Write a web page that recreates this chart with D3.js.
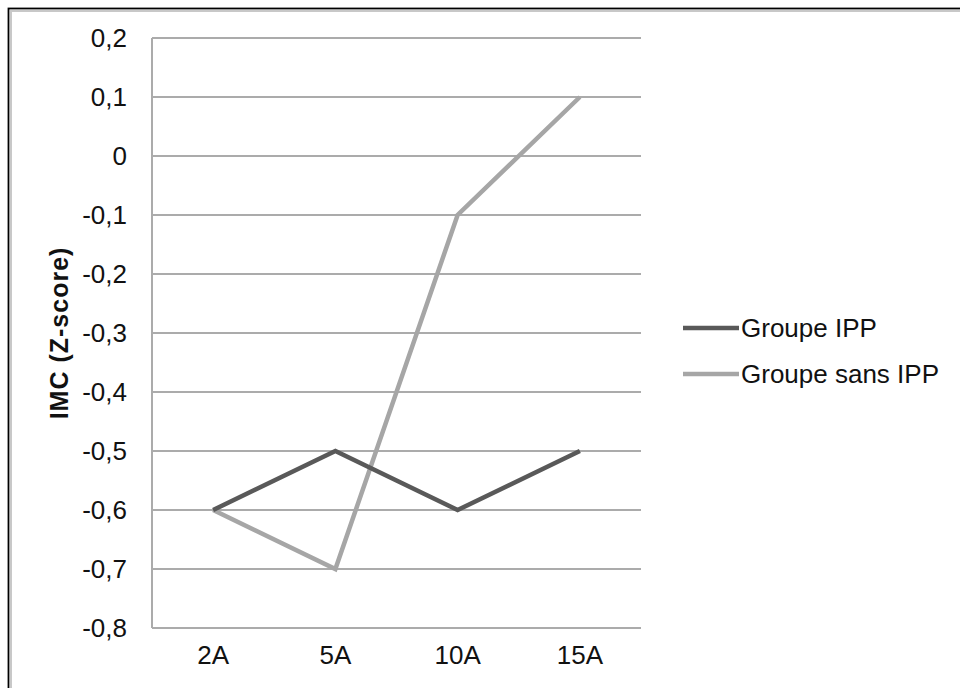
<!DOCTYPE html>
<html><head><meta charset="utf-8">
<script src="https://cdn.jsdelivr.net/npm/d3@7"></script>
<style>body{margin:0;background:#fff}svg{display:block;font-family:Arial,"Liberation Sans",sans-serif}</style>
</head><body>
<svg id="c" width="960" height="688"></svg>
<script>
const categories = ["2A", "5A", "10A", "15A"];
const groupeIPP = [-0.6, -0.5, -0.6, -0.5];
const groupeSansIPP = [-0.6, -0.7, -0.1, 0.1];
const yTicks = [0.2, 0.1, 0, -0.1, -0.2, -0.3, -0.4, -0.5, -0.6, -0.7, -0.8];
const seriesNames = ["Groupe IPP", "Groupe sans IPP"];
const seriesColors = ["#595959", "#a6a6a6"];
const yTitle = "IMC (Z-score)";

const svg = d3.select("#c");
// frame
svg.append("rect").attr("x",8.5).attr("y",8.5).attr("width",980).attr("height",700)
  .attr("fill","none").attr("stroke","#000").attr("stroke-width",1.8);
svg.append("rect").attr("x",11).attr("y",11).attr("width",980).attr("height",700)
  .attr("fill","none").attr("stroke","#c8c8c8").attr("stroke-width",2);

const L=152, R=641, T=38, B=628;
const x = d3.scaleBand().domain(categories).range([L,R]);
const y = d3.scaleLinear().domain([-0.8,0.2]).range([B,T]);
const fmt = v => (Math.abs(v)<1e-9 ? "0" : d3.format(".1f")(v).replace(".",",").replace("−","-"));

// gridlines
svg.append("g").selectAll("line").data(yTicks).join("line")
  .attr("x1",L).attr("x2",R).attr("y1",d=>y(d)).attr("y2",d=>y(d))
  .attr("stroke","#ababab").attr("stroke-width",2);
// y axis line
svg.append("line").attr("x1",L).attr("x2",L).attr("y1",T).attr("y2",B)
  .attr("stroke","#ababab").attr("stroke-width",2);

// y axis labels
const yAxis = d3.axisLeft(y).tickValues(yTicks).tickFormat(fmt).tickSize(0).tickPadding(0);
const gy = svg.append("g").attr("transform",`translate(127,0)`).call(yAxis);
gy.select(".domain").remove();
gy.selectAll("text").attr("font-size",26).attr("fill","#111").attr("font-family","Arial, 'Liberation Sans', sans-serif");

// x axis labels
const xAxis = d3.axisBottom(x).tickSize(0).tickPadding(0);
const gx = svg.append("g").attr("transform",`translate(0,${B+18})`).call(xAxis);
gx.select(".domain").remove();
gx.selectAll("text").attr("font-size",26).attr("fill","#111").attr("font-family","Arial, 'Liberation Sans', sans-serif");

// y title
svg.append("text").attr("transform",`translate(68,${(T+B)/2}) rotate(-90)`)
  .attr("text-anchor","middle").attr("font-size",25).attr("font-weight","bold")
  .attr("letter-spacing",1).attr("fill","#111").text(yTitle);

// lines
const line = d3.line().x((d,i)=>x(categories[i])+x.bandwidth()/2).y(d=>y(d));
[groupeSansIPP, groupeIPP].forEach((s,k)=>{
  const idx = k===0 ? 1 : 0;
  svg.append("path").datum(s).attr("d",line).attr("fill","none")
    .attr("stroke",seriesColors[idx]).attr("stroke-width",4.5).attr("stroke-linejoin","miter");
});

// legend
const leg = svg.append("g");
seriesNames.forEach((n,i)=>{
  const ly = 328 + i*46;
  leg.append("line").attr("x1",683).attr("x2",739).attr("y1",ly).attr("y2",ly)
    .attr("stroke",seriesColors[i]).attr("stroke-width",4.5);
  leg.append("text").attr("x",741).attr("y",ly).attr("dy","0.35em")
    .attr("font-size",26).attr("fill","#111").text(n);
});
</script>
</body></html>
